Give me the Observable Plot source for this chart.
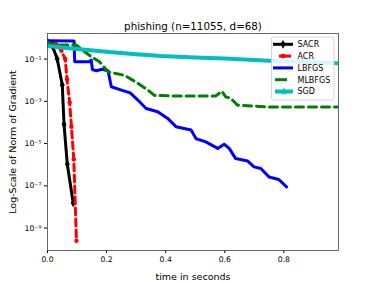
<!DOCTYPE html>
<html><head><meta charset="utf-8">
<script src="https://cdn.jsdelivr.net/npm/d3@7"></script>
<script src="https://cdn.jsdelivr.net/npm/@observablehq/plot@0.6"></script>
<style>
body{margin:0;background:#fff}
g[aria-label="x-axis label"], g[aria-label="y-axis label"] { font-size: 9.5px !important; }
</style>
</head><body><div id="chart"></div>
<script>
const seriesNames = ["SACR","ACR","LBFGS","MLBFGS","SGD"];
const seriesColors = ["#000000","#ff0000","#0000ff","#008000","#00bfbf"];

const sacrTime = [0, 0.017, 0.033, 0.05, 0.056, 0.067, 0.087];
const sacrGrad = [0.66, 0.4, 0.1, 5.9e-3, 8.1e-5, 1.05e-6, 1.55e-8];

const acrTime = [0, 0.03, 0.047, 0.06, 0.066, 0.075, 0.081, 0.089, 0.098];
const acrGrad = [0.7, 0.5, 0.25, 0.1, 1.1e-2, 8.9e-4, 6.3e-5, 1.8e-6, 2.5e-10];

const lbfgsTime = [0, 0.09, 0.092, 0.14, 0.148, 0.152, 0.165, 0.185, 0.205, 0.216, 0.25, 0.28, 0.306, 0.334, 0.373, 0.407, 0.435, 0.486, 0.503, 0.536, 0.576, 0.598, 0.615, 0.637, 0.677, 0.699, 0.722, 0.75, 0.783, 0.809];
const lbfgsGrad = [0.74, 0.71, 0.074, 0.074, 0.089, 0.032, 0.028, 0.033, 0.028, 0.0049, 0.0034, 0.0025, 0.00115, 4.6e-4, 3.2e-4, 1.55e-4, 6.3e-5, 4.4e-5, 1.7e-5, 1.2e-5, 5.9e-6, 9.3e-6, 5.9e-6, 1.95e-6, 1.5e-6, 7.9e-7, 6.6e-7, 2.6e-7, 2.0e-7, 8.9e-8];

const mlbfgsTime = [0, 0.02, 0.098, 0.126, 0.148, 0.176, 0.205, 0.261, 0.306, 0.34, 0.362, 0.418, 0.57, 0.59, 0.604, 0.62, 0.643, 0.75, 0.985];
const mlbfgsGrad = [0.63, 0.46, 0.46, 0.22, 0.13, 0.074, 0.025, 0.017, 0.0071, 0.0034, 0.0019, 0.0018, 0.0018, 0.003, 0.0016, 0.0014, 6.6e-4, 5.4e-4, 5.4e-4];

const sgdTime = [0, 0.05, 0.1, 0.2, 0.3, 0.385, 0.5, 0.6, 0.75, 0.985];
const sgdGrad = [0.42, 0.35, 0.30, 0.22, 0.17, 0.138, 0.117, 0.105, 0.083, 0.063];

const xTicks = [0, 0.2, 0.4, 0.6, 0.8];
const yTicks = [1e-9, 1e-7, 1e-5, 1e-3, 1e-1];
const titleText = "phishing (n=11055, d=68)";
const xLabel = "time in seconds";
const yLabel = "Log-Scale of Norm of Gradient";

const zip = (t, g) => t.map((x, i) => ({t: x, g: g[i]}));
const sacr = zip(sacrTime, sacrGrad), acr = zip(acrTime, acrGrad),
      lbfgs = zip(lbfgsTime, lbfgsGrad), mlbfgs = zip(mlbfgsTime, mlbfgsGrad),
      sgd = zip(sgdTime, sgdGrad);

const sup = {"-":"⁻","0":"⁰","1":"¹","2":"²","3":"³","4":"⁴","5":"⁵","6":"⁶","7":"⁷","8":"⁸","9":"⁹"};
const fmtPow = d => "10" + String(Math.round(Math.log10(d))).split("").map(c => sup[c]).join("");

const chart = Plot.plot({
  width: 376, height: 282,
  marginLeft: 47, marginRight: 38, marginTop: 33, marginBottom: 32,
  style: {fontFamily: "DejaVu Sans", fontSize: "7.7px", background: "#fff", color: "#000"},
  x: {domain: [0, 0.985], ticks: xTicks, tickFormat: d3.format(".1f"), tickSize: 3, tickPadding: 3,
      label: xLabel, labelAnchor: "center", labelOffset: 29, labelArrow: "none"},
  y: {type: "log", domain: [8.7e-11, 1.62], ticks: yTicks, tickFormat: fmtPow, tickSize: 3, tickPadding: 3,
      label: yLabel, labelAnchor: "center", labelOffset: 38, labelArrow: "none"},
  marks: [
    Plot.line(sacr, {x: "t", y: "g", stroke: seriesColors[0], strokeWidth: 3, clip: true}),
    Plot.dot(sacr, {x: "t", y: "g", symbol: "diamond", fill: seriesColors[0], r: 2.6, clip: true}),
    Plot.line(acr, {x: "t", y: "g", stroke: seriesColors[1], strokeWidth: 3, strokeDasharray: "7,4", clip: true}),
    Plot.dot(acr, {x: "t", y: "g", fill: seriesColors[1], r: 2.2, clip: true}),
    Plot.line(lbfgs, {x: "t", y: "g", stroke: seriesColors[2], strokeWidth: 3, clip: true}),
    Plot.line(mlbfgs, {x: "t", y: "g", stroke: seriesColors[3], strokeWidth: 3, strokeDasharray: "8,5", clip: true}),
    Plot.line(sgd, {x: "t", y: "g", stroke: seriesColors[4], strokeWidth: 4, clip: true}),
    Plot.frame({stroke: "#444", strokeWidth: 0.8}),
    Plot.text([titleText], {frameAnchor: "top", lineAnchor: "bottom", dy: -3.5, fontSize: 10.3, fill: "#000"})
  ]
});
document.getElementById("chart").appendChild(chart);

// legend
const svg = d3.select(chart);
const lg = svg.append("g").attr("font-family", "DejaVu Sans").attr("font-size", 8).attr("text-anchor", "start");
lg.append("rect").attr("x", 271.5).attr("y", 37).attr("width", 62.5).attr("height", 63)
  .attr("rx", 2).attr("fill", "#fff").attr("fill-opacity", 0.85).attr("stroke", "#ccc").attr("stroke-width", 0.8);
seriesNames.forEach((name, i) => {
  const y = 44.3 + i * 11.8;
  const c = seriesColors[i];
  const ln = lg.append("line").attr("x1", 273).attr("x2", 293).attr("y1", y).attr("y2", y)
    .attr("stroke", c).attr("stroke-width", i === 4 ? 4 : 3);
  if (i === 1) ln.attr("x1", 279).attr("x2", 291);
  if (i === 3) ln.attr("x1", 275).attr("x2", 287);
  if (i === 4) ln.attr("x1", 275);
  if (i === 0) lg.append("path").attr("d", d3.symbol(d3.symbolDiamond, 22)()).attr("transform", `translate(283,${y})`).attr("fill", c);
  if (i === 1) lg.append("circle").attr("cx", 283).attr("cy", y).attr("r", 2.4).attr("fill", c);
  if (i === 4) lg.append("path").attr("d", d3.symbol(d3.symbolStar, 22)()).attr("transform", `translate(284,${y})`).attr("fill", c);
  lg.append("text").attr("x", 297.5).attr("y", y).attr("dy", "0.35em").attr("fill", "#000").text(name);
});
</script></body></html>
